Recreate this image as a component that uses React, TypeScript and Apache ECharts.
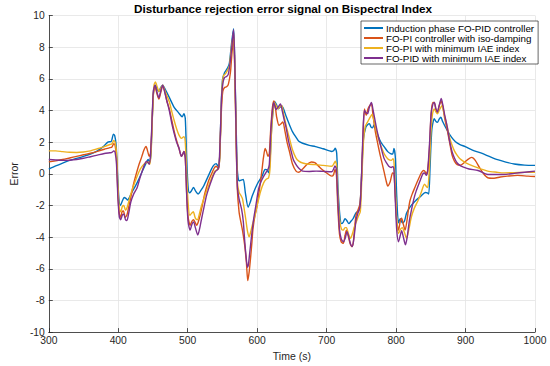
import React, { useEffect, useRef } from "react";
import * as echarts from "echarts";

const titleText = "Disturbance rejection error signal on Bispectral Index";
const seriesNames = [
  "Induction phase FO-PID controller",
  "FO-PI controller with iso-damping",
  "FO-PI with minimum IAE index",
  "FO-PID with minimum IAE index",
];
const seriesColors = ["#0072BD", "#D95319", "#EDB120", "#7E2F8E"];

const blueData: number[][] = [
  [300,0.3],[310,0.5],[320,0.68],[330,0.85],[340,0.97],[350,1.1],[360,1.25],[370,1.45],[378,1.7],[385,2.0],[390,2.05],[393,2.5],[395,2.4],[397,1.8],[399,0.0],[401,-1.6],[403,-2.0],[406,-1.7],[408.5,-1.5],[411,-1.55],[413.5,-1.66],[416,-1.5],[419.5,-1.18],[425,-0.75],[429,-0.4],[434,0.1],[438,0.48],[441,0.75],[443,0.9],[445,0.72],[447,1.2],[449,3.5],[451,5.3],[453.5,5.6],[456,5.35],[458.5,5.2],[461,5.45],[464,5.6],[468,5.3],[473.5,4.83],[480.5,4.2],[487,3.85],[492,3.6],[494.5,3.8],[496.5,3.5],[498.5,1.0],[500.5,-0.8],[502.5,-1.2],[505,-1.1],[508.5,-0.87],[511.5,-1.1],[515,-1.28],[519,-1.05],[523,-0.77],[529.5,-0.15],[536.5,0.48],[541,0.64],[544,0.45],[546,1.0],[548,4.0],[550,5.9],[553,6.38],[557.5,6.69],[560,7.0],[563,8.2],[566,9.17],[567.5,7.5],[569.5,3.5],[571.5,0.2],[574,-0.45],[577,-0.4],[580,-0.35],[583,-1.2],[587,-2.11],[590,-1.8],[593,-1.39],[600,-0.66],[607,-0.15],[611.5,0.27],[614,0.25],[616.5,0.07],[618.5,0.8],[621,3.0],[623.5,4.2],[625.5,4.55],[628,4.35],[630.5,4.1],[633,4.2],[635,4.3],[637.5,4.15],[642,3.6],[646.5,3.1],[651,2.65],[656,2.3],[660,2.05],[665.5,1.93],[675,1.8],[684,1.72],[695,1.58],[707.5,1.41],[710,1.45],[712.5,1.61],[714.5,1.3],[716.5,-1.0],[719,-2.6],[721.5,-3.15],[724,-3.05],[726.5,-2.84],[729,-2.95],[732,-3.15],[735,-3.0],[738,-2.84],[742.5,-2.45],[746,-2.35],[748,-2.1],[750.5,0.0],[753,2.2],[756.5,2.96],[759,3.1],[761.5,3.17],[764,2.95],[766,2.9],[768.5,3.1],[771,2.8],[774,2.4],[778,2.0],[783,1.7],[788,1.4],[792,1.28],[795,1.25],[797,1.6],[799,1.0],[801,-1.5],[803.5,-3.1],[806,-2.84],[809,-3.1],[812,-3.0],[815,-2.5],[820,-2.1],[828,-1.7],[836,-1.4],[842,-1.18],[845,-1.2],[847,-1.28],[849,0.5],[851.5,2.8],[855,3.48],[857.5,3.3],[859.5,3.25],[862,3.45],[864.5,3.58],[867,3.3],[873.5,2.75],[880,2.3],[885.5,2.03],[892,1.85],[899.5,1.72],[910,1.5],[923,1.3],[935,1.08],[946,0.89],[958,0.74],[970,0.62],[985,0.55],[1000,0.53],
];

const orangeData: number[][] = [
  [300,0.75],[310,0.82],[320,0.9],[330,1.0],[340,1.1],[350,1.2],[360,1.3],[370,1.42],[380,1.55],[388,1.65],[391,1.7],[393.5,1.9],[395.5,1.8],[397.5,1.0],[399.5,-1.2],[401.5,-2.5],[403.5,-2.75],[405.5,-2.4],[407.5,-2.35],[410,-2.75],[412.5,-2.6],[415,-2.1],[418,-1.5],[422,-0.66],[426,0.0],[430,0.6],[434,1.1],[437,1.5],[440,1.72],[442.5,1.4],[444.5,1.1],[446.5,1.3],[448.5,3.0],[450.5,5.0],[453,5.5],[455.5,5.1],[458.5,4.72],[461,5.1],[464,5.55],[467,5.2],[470,4.6],[473.5,4.1],[477,3.4],[480.5,2.7],[484,2.1],[487.5,1.6],[491,1.1],[493,1.25],[494.5,1.41],[496.5,1.0],[498.5,-1.2],[500.5,-2.7],[503.5,-3.25],[506,-3.0],[508.5,-2.9],[511,-3.1],[513,-3.25],[515.5,-3.0],[518,-2.6],[521,-2.0],[525,-1.18],[530,-0.45],[534,-0.04],[538,0.35],[541,0.48],[544.5,0.3],[546.5,1.5],[548.5,4.0],[550.5,5.2],[553,5.45],[556,5.5],[558.5,5.65],[561.5,6.4],[563.5,7.5],[566,8.65],[567.5,7.0],[569.5,2.5],[571.5,-1.0],[574,-2.42],[576.5,-3.04],[579,-3.6],[582,-4.49],[584.5,-5.6],[586.5,-6.75],[588.5,-6.2],[590.5,-5.32],[592.5,-4.3],[594,-3.46],[597,-2.6],[600,-2.0],[603.5,-0.9],[607,0.27],[609,1.0],[611.5,1.6],[613.5,1.4],[615.5,1.1],[617.5,1.3],[619.5,2.8],[622,4.2],[624,4.6],[626,4.3],[628,3.6],[631.5,3.06],[634,3.15],[637,3.27],[640,2.7],[643,2.0],[646.5,1.41],[651,0.6],[656,0.17],[660,0.1],[665.5,0.3],[672,0.6],[678,0.75],[683,0.7],[688,0.5],[693.5,0.27],[700,0.05],[707.5,-0.15],[710,-0.05],[712,0.27],[714,0.0],[716,-2.0],[718.5,-3.8],[721,-4.3],[724,-4.39],[726.5,-3.9],[728.5,-3.56],[731,-3.9],[733.5,-4.35],[736.5,-4.6],[738.5,-4.3],[740.5,-3.3],[742.5,-2.6],[745,-2.3],[748,-1.9],[750,-0.5],[752.5,2.5],[754.5,4.1],[757,3.7],[759.5,4.1],[762,4.3],[764.5,4.41],[767,3.6],[770,2.7],[773,2.03],[777,1.2],[782.5,0.17],[786,-0.5],[788,-0.77],[791.5,-0.5],[795,0.06],[797,0.0],[799,-1.5],[801,-3.0],[803.5,-3.56],[806,-3.0],[808,-2.8],[810.5,-3.2],[813,-3.56],[815.5,-3.0],[818,-2.2],[820,-1.7],[823,-1.3],[827,-0.87],[830,-0.55],[834,-0.15],[837,0.1],[839.5,0.21],[841.5,0.15],[843.5,0.0],[845.5,0.2],[848,1.5],[850.5,3.8],[853,4.5],[855,4.5],[857.5,4.0],[859.5,3.9],[862,4.3],[865,4.6],[867.5,4.2],[870,3.5],[873.5,2.8],[877,2.0],[880.5,1.2],[884,0.8],[888,0.58],[893,0.55],[898,0.7],[903,0.9],[909,1.04],[914,0.85],[920,0.4],[926,0.0],[932,-0.25],[941,-0.28],[950,-0.2],[960,-0.15],[975,-0.1],[990,-0.15],[1000,-0.17],
];

const yellowData: number[][] = [
  [300,1.45],[310,1.45],[320,1.4],[330,1.36],[340,1.35],[350,1.38],[360,1.45],[370,1.58],[380,1.72],[388,1.85],[391,1.9],[393.5,2.1],[395.5,2.0],[397.5,1.3],[399.5,-0.8],[401.5,-2.2],[403.5,-2.4],[406,-2.05],[408,-2.0],[410.5,-2.3],[413,-2.1],[416,-1.6],[420,-1.0],[425,-0.4],[430,0.15],[434,0.45],[438,0.65],[441,0.7],[443.5,0.75],[445.5,0.6],[447.5,1.5],[449.5,4.0],[451.5,5.6],[453.5,5.8],[456,5.5],[458.5,5.2],[461,5.4],[464,5.6],[468,5.15],[473.5,4.55],[477,3.95],[480.5,3.37],[484,2.85],[487.5,2.44],[491,2.24],[494.5,2.35],[496.5,2.0],[498.5,0.0],[500.5,-1.8],[503,-2.63],[505.5,-2.5],[508,-2.4],[511,-2.8],[514,-2.9],[517,-2.5],[520,-2.0],[525,-1.35],[530,-0.77],[535,-0.2],[539,0.17],[543.5,0.3],[545.5,0.6],[547.5,3.0],[549.5,5.5],[551.5,6.2],[554,6.3],[557.5,6.55],[560,6.8],[563,8.0],[566,8.9],[567.5,7.2],[569.5,3.0],[571.5,-0.5],[574,-1.18],[577,-1.4],[579,-1.6],[583.5,-2.84],[586,-3.6],[588.5,-3.98],[590.5,-3.7],[593,-3.25],[597,-2.6],[600,-2.0],[605,-1.1],[609.5,-0.56],[613,-0.35],[616.5,-0.25],[618.5,0.3],[620.5,2.5],[623,4.0],[625,4.5],[627.5,4.3],[630,4.1],[633,4.25],[635.5,4.3],[638,3.8],[642,3.0],[646.5,2.24],[651,1.5],[656,0.99],[660,0.8],[665.5,0.68],[675,0.6],[684,0.58],[695,0.53],[707.5,0.48],[710,0.6],[712.5,0.79],[714.5,0.5],[716.5,-1.5],[719,-3.0],[721.5,-3.5],[724,-3.56],[726.5,-3.4],[728.5,-3.4],[731.5,-3.8],[734.5,-4.08],[737,-3.8],[740,-3.35],[743,-3.0],[745.5,-2.7],[748.5,-2.4],[750.5,-0.5],[753,2.0],[755.5,3.0],[758,3.2],[760.5,3.4],[763,3.6],[765.5,3.75],[768,3.4],[770.5,2.9],[773,2.44],[777,1.9],[782.5,1.3],[786,1.05],[789.5,0.89],[793,0.85],[795.5,0.95],[797,0.7],[799,-1.0],[801,-3.0],[803.5,-3.77],[806.5,-3.5],[809,-3.4],[812,-3.7],[815,-4.08],[818,-3.6],[822,-2.73],[826,-2.2],[831.5,-1.7],[836,-1.2],[841,-0.66],[843.5,-0.8],[845.5,-0.87],[847.5,0.0],[850,2.5],[852.5,3.8],[855,4.1],[857.5,3.9],[859.5,3.79],[862,4.0],[866,4.3],[869,3.8],[873.5,3.0],[877,2.3],[880.5,1.82],[884,1.45],[887.5,1.2],[892,0.95],[897,0.79],[905,0.6],[918,0.37],[932,0.17],[945,0.1],[955,0.06],[970,0.07],[985,0.09],[1000,0.1],
];

const purpleData: number[][] = [
  [300,0.9],[310,0.87],[320,0.85],[330,0.86],[340,0.9],[350,0.98],[360,1.08],[370,1.18],[380,1.28],[388,1.33],[391,1.35],[393.5,1.45],[395.5,1.35],[397.5,0.6],[399.5,-1.5],[401.5,-2.7],[403.5,-2.9],[406,-2.6],[408,-2.55],[410.5,-2.9],[412.5,-2.95],[415,-2.5],[418,-1.8],[422,-1.3],[427,-0.9],[431,-0.3],[434.5,0.17],[438,0.6],[441,0.79],[444.5,0.6],[446.5,1.2],[448.5,3.2],[450.5,5.2],[453,5.6],[455.5,5.2],[458.5,4.8],[461,5.2],[464,5.6],[467,5.15],[470,4.6],[473.5,4.0],[477,3.2],[480.5,2.55],[484,2.0],[487.5,1.61],[491,1.1],[493,1.25],[494.5,1.41],[496.5,1.0],[498.5,-1.3],[500.5,-3.0],[503.5,-3.56],[506,-3.2],[508.5,-3.04],[511,-3.4],[514.5,-3.87],[517,-3.5],[520,-2.84],[523.5,-2.1],[527,-1.39],[532,-0.7],[536.5,-0.15],[540,0.15],[543,0.27],[545,0.5],[547,2.5],[549,5.0],[551,5.8],[553,6.07],[556,6.15],[558.5,6.3],[561,7.0],[563.5,8.0],[566,9.1],[567.5,7.5],[569.5,3.0],[571.5,-0.8],[574,-1.6],[577.5,-2.22],[580,-3.0],[582,-4.2],[584,-5.2],[586,-5.9],[587.5,-5.7],[589.5,-4.9],[592,-3.9],[595,-2.84],[598.5,-1.9],[602,-0.97],[605.5,-0.5],[609.5,-0.15],[613,0.1],[615.5,0.27],[617.5,0.6],[619.5,2.5],[622,4.0],[624,4.5],[625.5,4.3],[627,4.06],[630,4.2],[633.5,4.41],[636,4.0],[639,3.4],[642,2.86],[645,2.1],[649,1.41],[652,0.9],[656,0.58],[660,0.35],[665.5,0.17],[675,0.15],[685,0.17],[695,0.15],[707.5,0.13],[710,0.3],[712,0.5],[714,0.3],[716,-1.5],[718.5,-3.5],[721,-4.1],[724,-4.29],[726.5,-4.1],[729.5,-3.66],[732,-4.0],[734.5,-4.45],[737,-4.6],[739.5,-4.0],[742.5,-2.9],[745,-2.5],[748,-2.1],[750,-0.5],[752.5,2.8],[754.5,4.0],[757,3.85],[759,3.8],[761.5,4.2],[764.5,4.5],[767,4.0],[770,3.3],[773,2.65],[777,1.9],[782.5,0.99],[786,0.7],[789.5,0.48],[793,0.4],[795.5,0.45],[797,0.2],[799,-1.8],[801,-3.6],[803.5,-4.29],[806,-3.9],[808,-3.6],[810.5,-4.0],[813.5,-4.49],[816,-4.0],[819,-3.0],[822,-2.32],[825.5,-1.6],[829,-1.08],[834,-0.5],[838.5,0.0],[841,0.05],[843.5,-0.1],[845.5,0.2],[848,1.8],[850.5,3.8],[853,4.4],[855,4.5],[857.5,4.1],[859.5,3.9],[862,4.3],[865,4.76],[867.5,4.3],[870,3.7],[873.5,3.0],[877,2.1],[880.5,1.41],[884,1.0],[888,0.68],[893,0.5],[897,0.42],[905,0.3],[918,0.21],[932,-0.04],[945,-0.04],[955,-0.04],[970,0.03],[985,0.1],[1000,0.17],
];

const allData = [blueData, orangeData, yellowData, purpleData];

const FONT = "'Liberation Sans', Arial, Helvetica, sans-serif";
const AXIS_COLOR = "#262626";
const GRID_COLOR = "#e3e3e3";

export default function App() {
  const ref = useRef<HTMLDivElement>(null);

  useEffect(() => {
    if (!ref.current) return;
    const chart = echarts.init(ref.current, undefined, { renderer: "svg" });
    const option: any = {
      animation: false,
      backgroundColor: "#ffffff",
      textStyle: { fontFamily: FONT },
      title: {
        text: titleText,
        left: 134,
        top: 2.5,
        padding: 0,
        textStyle: { fontFamily: FONT, fontSize: 11.7, fontWeight: "bold", color: "#000" },
      },
      grid: { left: 36.5, right: 15, top: 15.5, bottom: 29, containLabel: false },
      legend: {
        orient: "vertical",
        left: 361,
        top: 21,
        padding: [2, 4, 1, 3],
        itemGap: 0,
        itemWidth: 19,
        itemHeight: 2,
        icon: "rect",
        backgroundColor: "#ffffff",
        borderColor: AXIS_COLOR,
        borderWidth: 0.7,
        borderRadius: 0,
        data: seriesNames,
        textStyle: { fontFamily: FONT, fontSize: 9.8, color: "#000", lineHeight: 9.2, padding: [0, 0, 0, -2] },
      },
      xAxis: {
        type: "value",
        min: 300,
        max: 1000,
        interval: 100,
        name: "Time (s)",
        nameLocation: "middle",
        nameGap: 14,
        nameTextStyle: { fontFamily: FONT, fontSize: 10.5, color: AXIS_COLOR },
        axisLine: { show: true, onZero: false, lineStyle: { color: AXIS_COLOR, width: 0.8 } },
        axisTick: { show: true, inside: true, length: 4, lineStyle: { color: AXIS_COLOR, width: 0.8 } },
        axisLabel: { color: AXIS_COLOR, fontSize: 10.3, margin: 3, fontFamily: FONT, formatter: (v: number) => String(v) },
        splitLine: { show: true, lineStyle: { color: GRID_COLOR, width: 0.8 } },
      },
      yAxis: {
        type: "value",
        min: -10,
        max: 10,
        interval: 2,
        name: "Error",
        nameLocation: "middle",
        nameGap: 20,
        nameTextStyle: { fontFamily: FONT, fontSize: 10.5, color: AXIS_COLOR },
        axisLine: { show: true, onZero: false, lineStyle: { color: AXIS_COLOR, width: 0.8 } },
        axisTick: { show: true, inside: true, length: 4, lineStyle: { color: AXIS_COLOR, width: 0.8 } },
        axisLabel: { color: AXIS_COLOR, fontSize: 10.3, margin: 4, fontFamily: FONT, formatter: (v: number) => String(v) },
        splitLine: { show: true, lineStyle: { color: GRID_COLOR, width: 0.8 } },
      },
      series: seriesNames.map((name, i) => ({
        name,
        type: "line",
        data: allData[i],
        showSymbol: false,
        symbol: "none",
        smooth: 0.25,
        color: seriesColors[i],
        lineStyle: { color: seriesColors[i], width: 1.4 },
        z: 2 + i,
      })),
    };
    chart.setOption(option);
    return () => chart.dispose();
  }, []);

  return (
    <div
      ref={ref}
      style={{ position: "fixed", left: 0, top: 0, width: 550, height: 366 }}
    />
  );
}
